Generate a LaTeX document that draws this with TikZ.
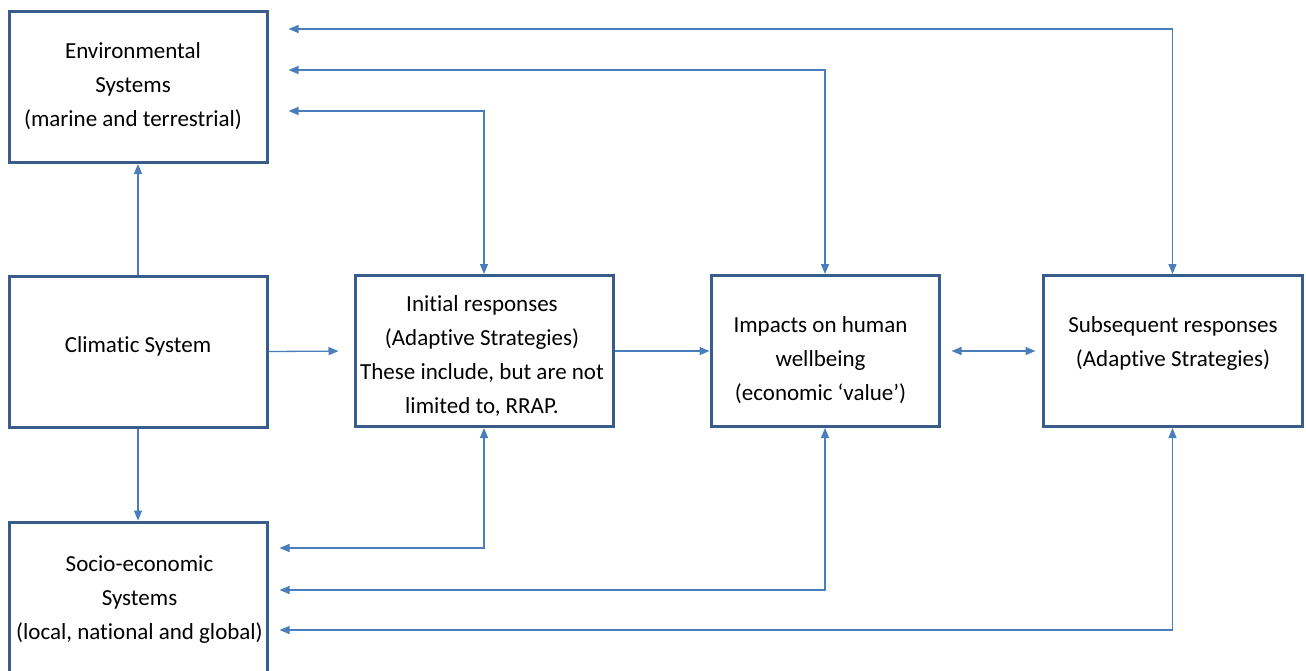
\documentclass[tikz,border=0pt]{standalone}
\usepackage{fontspec}
\setmainfont[Ligatures=NoCommon]{Carlito}
\usetikzlibrary{arrows.meta}
\definecolor{boxc}{HTML}{385D8A}
\definecolor{linec}{HTML}{4A7EBB}
\tikzset{
  box/.style={draw=boxc, line width=3pt, rectangle, minimum width=#1, minimum height=151pt, inner sep=0pt},
  box/.default=258pt,
  txt/.style={align=center, inner sep=0pt, font=\fontsize{23}{34}\selectfont, text=black},
  conn/.style={draw=linec, line width=1.3pt, arrows={-Triangle[length=10pt,width=8pt]}},
  conn2/.style={draw=linec, line width=1.3pt, arrows={Triangle[length=10pt,width=8pt]-Triangle[length=10pt,width=8pt]}}
}
\begin{document}
\begin{tikzpicture}[x=1pt,y=-1pt]
\useasboundingbox (0,0) rectangle (1306,670);
% boxes
\node[box] (env) at (138,87) {};
\node[box] (clim) at (138,351.5) {};
\node[box, minimum height=152pt] (soc) at (138,598) {};
\node[box] (init) at (484,351) {};
\node[box=228pt] (imp) at (825,351) {};
\node[box=259pt] (sub) at (1172.5,351) {};
% texts
\node[txt] (envT) at (133,86) {Environmental\\Systems\\(marine and terrestrial)};
\node[txt] (climT) at (138,346) {Climatic System};
\node[txt] (socT) at (139.5,600) {Socio-economic\\Systems\\(local, national and global)};
\node[txt] (initT) at (482,355.5) {Initial responses\\(Adaptive Strategies)\\These include, but are not\\limited to, RRAP.};
\node[txt] (impT) at (820.5,360) {Impacts on human\\wellbeing\\(economic ‘value’)};
\node[txt] (subT) at (1173,343) {Subsequent responses\\(Adaptive Strategies)};
% coordinates for routed connectors
\coordinate (t1) at (1172.5,29);
\coordinate (t2) at (825,70);
\coordinate (t3) at (484,111);
\coordinate (b1) at (484,548);
\coordinate (b2) at (825,590);
\coordinate (b3) at (1172.5,630);
% simple connectors
\draw[conn] (clim.north) -- (env.south);
\draw[conn] (clim.south) -- (soc.north);
\draw[conn, shorten >=15pt] (clim.east) -- (init.west);
\draw[conn] (init.east) -- (imp.west);
\draw[conn2, shorten <=11pt, shorten >=6pt] (imp.east) -- (sub.west);
% top routed
\draw[conn2, shorten >=20pt] (sub.north) -- (t1) -- (env.east |- t1);
\draw[conn2, shorten >=20pt] (imp.north) -- (t2) -- (env.east |- t2);
\draw[conn2, shorten >=20pt] (init.north) -- (t3) -- (env.east |- t3);
% bottom routed
\draw[conn2, shorten >=11pt] (init.south) -- (b1) -- (soc.east |- b1);
\draw[conn2, shorten >=11pt] (imp.south) -- (b2) -- (soc.east |- b2);
\draw[conn2, shorten >=11pt] (sub.south) -- (b3) -- (soc.east |- b3);
\end{tikzpicture}
\end{document}
